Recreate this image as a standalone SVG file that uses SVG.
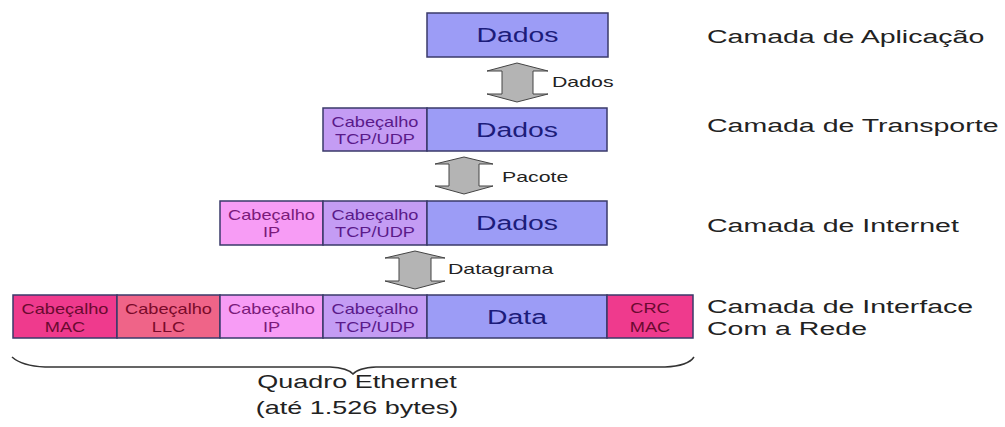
<svg xmlns="http://www.w3.org/2000/svg" width="1005" height="427" viewBox="0 0 1005 427">
<style>
text{font-family:"Liberation Sans",Arial,sans-serif}
.box{stroke:#3a3a6a;stroke-width:1.5}
.dat{fill:#9c9cf6}
.tcp{fill:#c49cf4}
.ip{fill:#f79cf5}
.llc{fill:#ef6488}
.mac{fill:#ef3a8d}
.big{font-size:20px;fill:#1c1c7a;text-anchor:middle}
.sm{font-size:14px;text-anchor:middle}
.ttcp{fill:#5a1a8a}
.tip{fill:#7a1a7a}
.tllc{fill:#7a0a2a}
.tmac{fill:#6a0a30}
.lbl{font-size:19px;fill:#222}
.arr{fill:#b4b4b4;stroke:#444;stroke-width:1}
.albl{font-size:15px;fill:#222}
.brace{fill:none;stroke:#333;stroke-width:1.5}
</style>
<rect width="1005" height="427" fill="#fff"/>

<g id="app">
<rect class="box dat" x="427" y="13" width="181" height="44"/>
<text class="big" transform="translate(517.5,42) scale(1.42,1)">Dados</text>
</g>

<g id="transport">
<rect class="box tcp" x="323" y="108" width="104" height="43"/>
<rect class="box dat" x="427" y="108" width="180" height="43"/>
<text class="sm ttcp" transform="translate(375,127) scale(1.3,1)">Cabeçalho</text>
<text class="sm ttcp" transform="translate(375,144) scale(1.3,1)">TCP/UDP</text>
<text class="big" transform="translate(517,137) scale(1.42,1)">Dados</text>
</g>

<g id="internet">
<rect class="box ip" x="220" y="201" width="103" height="44"/>
<rect class="box tcp" x="323" y="201" width="104" height="44"/>
<rect class="box dat" x="427" y="201" width="180" height="44"/>
<text class="sm tip" transform="translate(271.5,220) scale(1.3,1)">Cabeçalho</text>
<text class="sm tip" transform="translate(271.5,237) scale(1.3,1)">IP</text>
<text class="sm ttcp" transform="translate(375,220) scale(1.3,1)">Cabeçalho</text>
<text class="sm ttcp" transform="translate(375,237) scale(1.3,1)">TCP/UDP</text>
<text class="big" transform="translate(517,230) scale(1.42,1)">Dados</text>
</g>

<g id="frame">
<rect class="box mac" x="13" y="295" width="104" height="43"/>
<rect class="box llc" x="117" y="295" width="103" height="43"/>
<rect class="box ip" x="220" y="295" width="103" height="43"/>
<rect class="box tcp" x="323" y="295" width="104" height="43"/>
<rect class="box dat" x="427" y="295" width="180" height="43"/>
<rect class="box mac" x="607" y="295" width="86" height="43"/>
<text class="sm tmac" transform="translate(65,314) scale(1.3,1)">Cabeçalho</text>
<text class="sm tmac" transform="translate(65,332) scale(1.3,1)">MAC</text>
<text class="sm tllc" transform="translate(168.5,314) scale(1.3,1)">Cabeçalho</text>
<text class="sm tllc" transform="translate(168.5,332) scale(1.3,1)">LLC</text>
<text class="sm tip" transform="translate(271.5,314) scale(1.3,1)">Cabeçalho</text>
<text class="sm tip" transform="translate(271.5,332) scale(1.3,1)">IP</text>
<text class="sm ttcp" transform="translate(375,314) scale(1.3,1)">Cabeçalho</text>
<text class="sm ttcp" transform="translate(375,332) scale(1.3,1)">TCP/UDP</text>
<text class="big" transform="translate(517,324) scale(1.42,1)">Data</text>
<text class="sm tmac" transform="translate(650,313) scale(1.3,1)">CRC</text>
<text class="sm tmac" transform="translate(650,332) scale(1.3,1)">MAC</text>
</g>

<g id="labels">
<text class="lbl" transform="translate(707,43) scale(1.5,1)">Camada de Aplicação</text>
<text class="lbl" transform="translate(707,132) scale(1.5,1)">Camada de Transporte</text>
<text class="lbl" transform="translate(707,232) scale(1.5,1)">Camada de Internet</text>
<text class="lbl" transform="translate(707,313) scale(1.5,1)">Camada de Interface</text>
<text class="lbl" transform="translate(707,335) scale(1.5,1)">Com a Rede</text>
</g>

<g id="connectors">
<path class="arr" d="M517,63 L548,71 L533,71 L533,94 L548,94 L517,102 L487,94 L502,94 L502,71 L487,71 Z"/>
<text class="albl" transform="translate(552,87) scale(1.42,1)">Dados</text>
<path class="arr" d="M464,157 L493,164 L479,164 L479,186 L493,186 L464,194 L435,186 L449,186 L449,164 L435,164 Z"/>
<text class="albl" transform="translate(502,182) scale(1.42,1)">Pacote</text>
<path class="arr" d="M415,251 L445,258 L431,258 L431,281 L445,281 L415,289 L385,281 L399,281 L399,258 L385,258 Z"/>
<text class="albl" transform="translate(448,274) scale(1.42,1)">Datagrama</text>
</g>

<g id="ethernet">
<path class="brace" d="M12,357 Q22,366 45,367 L330,367 Q348,368 353,374 Q358,368 376,367 L665,367 Q688,366 694,357"/>
<text class="lbl" text-anchor="middle" transform="translate(357,388) scale(1.42,1)">Quadro Ethernet</text>
<text class="lbl" text-anchor="middle" transform="translate(357,414) scale(1.42,1)">(até 1.526 bytes)</text>
</g>
</svg>
